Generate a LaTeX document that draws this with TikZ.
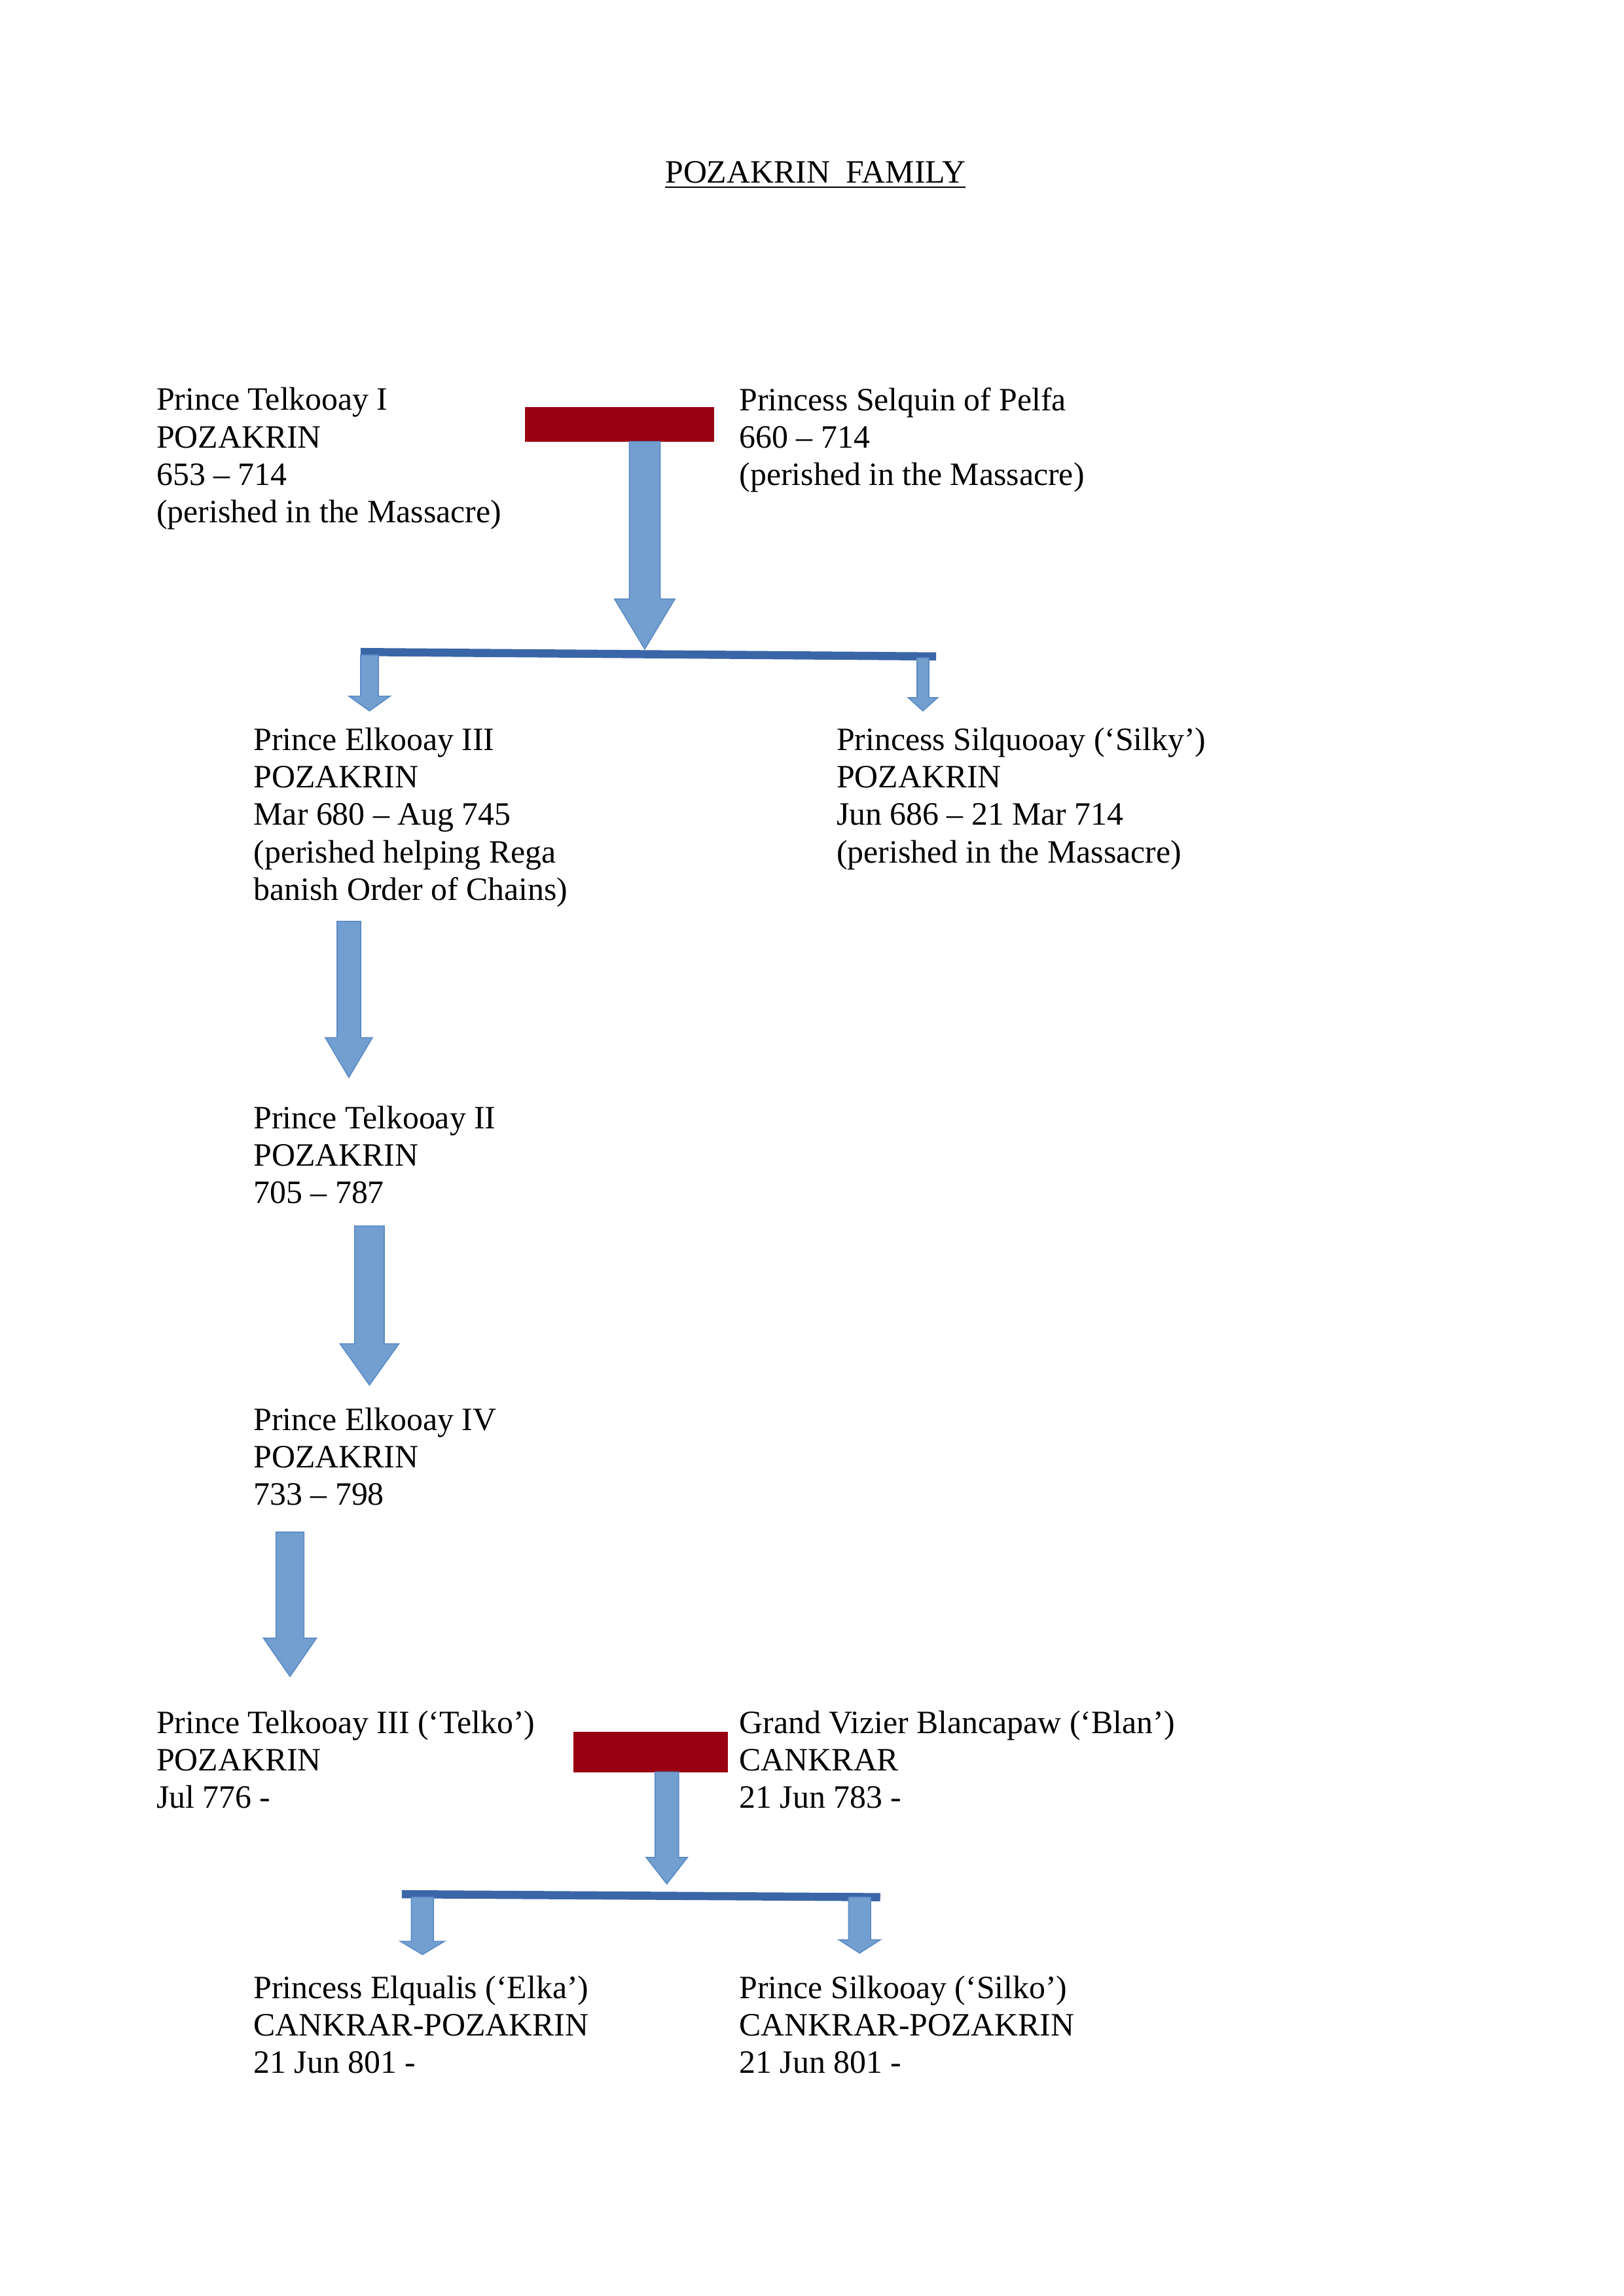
\documentclass[tikz,border=0pt]{standalone}
\usepackage{fontspec}
\setmainfont{Liberation Serif}
\usetikzlibrary{positioning,calc}
\definecolor{couplered}{HTML}{990011}
\definecolor{arrowblue}{HTML}{729FCF}
\definecolor{arrowedge}{HTML}{5B8BC6}
\definecolor{barblue}{HTML}{3A66A8}
\tikzstyle{person} = [anchor=north west, align=left, inner sep=0pt, font=\fontsize{12pt}{13.8pt}\selectfont]
\tikzstyle{couple} = [draw=couplered, fill=couplered]
\tikzstyle{bar} = [draw=barblue, line width=3pt]
\tikzstyle{descent} = [fill=arrowblue, draw=arrowedge, line width=0.4pt]
% block arrow: x, top, bottom, half shaft, half head, head length
\newcommand{\famarrow}[6]{
    \draw[descent] (#1-#4,#2) -- (#1+#4,#2) -- (#1+#4,#3-#6) -- (#1+#5,#3-#6)
        -- (#1,#3) -- (#1-#5,#3-#6) -- (#1-#4,#3-#6) -- cycle;
}

\begin{document}
\begin{tikzpicture}[x=0.01904cm, y=-0.01904cm]
    \useasboundingbox (0,0) rectangle (1103,1560);

    \node[font=\fontsize{12pt}{13.8pt}\selectfont] (title) at (554,119) {\underline{POZAKRIN\ \ FAMILY}};

    % first couple
    \node[person] (telkoI) at (106,263) {Prince Telkooay I\\POZAKRIN\\653 -- 714\\(perished in the Massacre)};
    \node[person] (selquin) at (502,263) {Princess Selquin of Pelfa\\660 -- 714\\(perished in the Massacre)};
    \draw[couple] (357,277) rectangle (485,300);
    \famarrow{438}{300}{441}{10.5}{20.5}{34}
    \draw[bar] (245,443) -- (636,446);
    \famarrow{251}{445}{483}{6}{14}{10}
    \famarrow{627}{447}{483}{4}{10}{9}

    % children
    \node[person] (elkoIII) at (172,494) {Prince Elkooay III\\POZAKRIN\\Mar 680 -- Aug 745\\(perished helping Rega\\banish Order of Chains)};
    \node[person] (silky) at (568,494) {Princess Silquooay (`Silky')\\POZAKRIN\\Jun 686 -- 21 Mar 714\\(perished in the Massacre)};
    \famarrow{237}{626}{732}{8}{16}{27}

    \node[person] (telkoII) at (172,751) {Prince Telkooay II\\POZAKRIN\\705 -- 787};
    \famarrow{251}{833}{941}{10}{20}{28}

    \node[person] (elkoIV) at (172,956) {Prince Elkooay IV\\POZAKRIN\\733 -- 798};
    \famarrow{197}{1041}{1139}{9.5}{18}{26}

    % second couple
    \node[person] (telko) at (106,1162) {Prince Telkooay III (`Telko')\\POZAKRIN\\Jul 776 -};
    \node[person] (blan) at (502,1162) {Grand Vizier Blancapaw (`Blan')\\CANKRAR\\21 Jun 783 -};
    \draw[couple] (390,1177) rectangle (494,1204);
    \famarrow{453}{1204}{1280}{8}{14}{18}
    \draw[bar] (273,1287) -- (598,1289);
    \famarrow{287}{1289}{1328}{7.5}{15}{9}
    \famarrow{584}{1289}{1327}{7.5}{14}{9}

    \node[person] (elka) at (172,1342) {Princess Elqualis (`Elka')\\CANKRAR-POZAKRIN\\21 Jun 801 -};
    \node[person] (silko) at (502,1342) {Prince Silkooay (`Silko')\\CANKRAR-POZAKRIN\\21 Jun 801 -};
\end{tikzpicture}
\end{document}
